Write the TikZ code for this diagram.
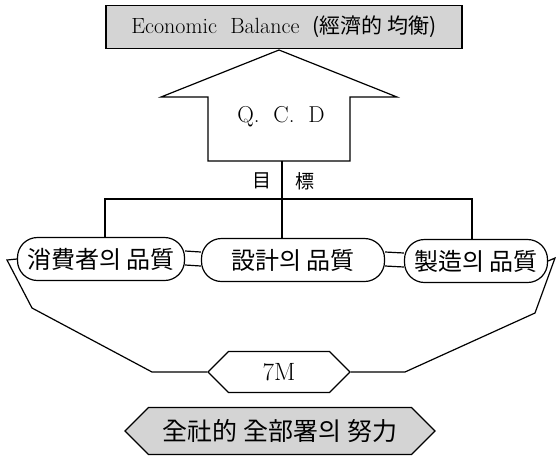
\documentclass[tikz,border=0pt]{standalone}
\usepackage{fontspec}
\newfontfamily\cjk{Noto Sans CJK KR}
\usetikzlibrary{shapes.symbols}
\begin{document}
\begin{tikzpicture}[x=1pt, y=-1pt, line width=1.2pt]
\tikzset{qbox/.style={shape=rectangle, draw, rounded corners=20pt, minimum height=43pt, inner sep=0pt, font=\cjk\fontsize{24}{26}\selectfont}}
\tikzset{hexbox/.style={shape=signal, signal to=west and east, signal pointer angle=90, draw, inner sep=0pt}}
\tikzset{grayfill/.style={fill=black!17}}
\useasboundingbox (0,0) rectangle (556,456);
% goal and arrow
\node (balance) [draw, grayfill, minimum width=356pt, minimum height=43pt, inner sep=0pt, line width=1.5pt] at (284,27)
  {\fontsize{22}{24}\selectfont Economic\ \ Balance \ {\cjk\fontsize{21}{23}\selectfont (經濟的 均衡)}};
\draw (279,50) -- (397,97) -- (350,97) -- (350,161) -- (208,161) -- (208,97) -- (161,97) -- cycle;
\node (qcd) at (281,117) {\fontsize{23}{25}\selectfont Q.\ \ C.\ \ D};
\node (goal1) at (262,181) {\cjk\fontsize{19}{21}\selectfont 目};
\node (goal2) at (305,181) {\cjk\fontsize{19}{21}\selectfont 標};
% qualities
\node (lnode) [qbox, minimum width=167pt] at (101,259) {消費者의 品質};
\node (mnode) [qbox, minimum width=183pt] at (293,260) {設計의 品質};
\node (rnode) [qbox, minimum width=143pt] at (476,261) {製造의 品質};
\coordinate (abot) at (282,161);
\coordinate (bar) at (282,199);
\coordinate (lft) at (105,199);
\coordinate (rgt) at (472,199);
\draw (abot) -- (bar);
\draw (lnode.north -| lft) -- (lft) -- (rgt) -- (rnode.north -| rgt);
\draw (bar) -- (mnode.north -| bar);
\draw ([yshift=8pt]lnode.east) -- ([yshift=8pt]mnode.west);
\draw ([yshift=-6pt]lnode.east) -- ([yshift=-6pt]mnode.west);
\draw ([yshift=8pt]mnode.east) -- ([yshift=8pt]rnode.west);
\draw ([yshift=-6pt]mnode.east) -- ([yshift=-6pt]rnode.west);
% 7M and effort
\node (m7) [hexbox, minimum width=142pt, minimum height=41pt] at (279,372) {\fontsize{25}{27}\selectfont 7M};
\node (effort) [hexbox, grayfill, minimum width=310pt, minimum height=47pt] at (280,431)
  {\cjk\fontsize{25}{27}\selectfont 全社的 全部署의 努力};
\draw (lnode.west) -- (7,260) -- (32,308) -- (152,372) -- (m7.west);
\draw (rnode.east) -- (555,258) -- (535,313) -- (405,372) -- (m7.east);
\end{tikzpicture}
\end{document}
